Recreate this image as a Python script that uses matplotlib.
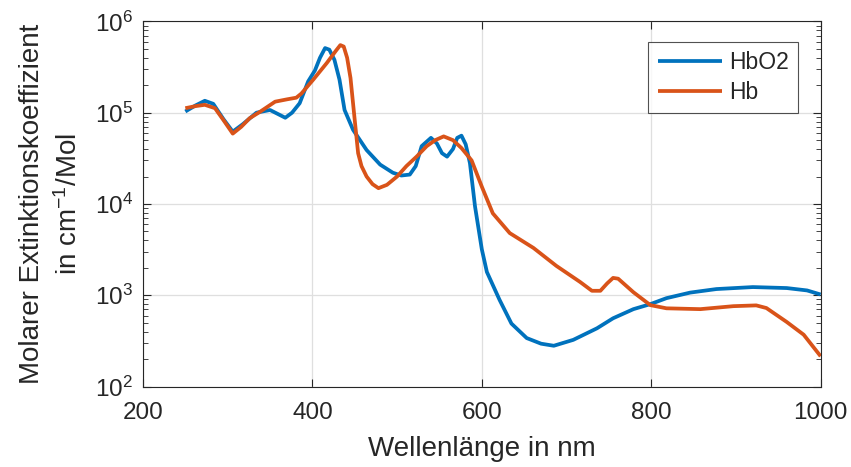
import matplotlib
matplotlib.use("Agg")
import matplotlib.pyplot as plt
from matplotlib.ticker import LogLocator, NullFormatter

plt.rcParams['font.family'] = ['Liberation Sans', 'DejaVu Sans']
plt.rcParams['mathtext.fontset'] = 'custom'
plt.rcParams['mathtext.rm'] = 'Liberation Sans'
plt.rcParams['mathtext.it'] = 'Liberation Sans'

# Wavelength (nm) and molar extinction coefficient (cm^-1/Mol)
hbo2_nm = [250, 262, 273, 283, 295, 306, 318, 334, 350, 360, 368, 376, 385, 395,
           403, 409, 415, 420, 426, 432, 438, 448, 464, 480, 495, 505, 515, 522,
           529, 540, 547, 553, 559, 566, 571, 576, 581, 586, 592, 600, 606, 621,
           635, 653, 670, 685, 708, 736, 755, 779, 799, 818, 846, 877, 920, 960,
           984, 1000]
hbo2_eps = [1.03e5, 1.2e5, 1.35e5, 1.25e5, 8.5e4, 6.2e4, 7.5e4, 1.0e5, 1.07e5,
            9.6e4, 8.8e4, 1.0e5, 1.27e5, 2.2e5, 2.9e5, 4.0e5, 5.1e5, 4.9e5,
            3.8e5, 2.3e5, 1.07e5, 6.5e4, 3.9e4, 2.7e4, 2.2e4, 2.05e4, 2.1e4,
            2.6e4, 4.3e4, 5.3e4, 4.6e4, 3.6e4, 3.3e4, 4.0e4, 5.3e4, 5.6e4,
            4.5e4, 2.8e4, 9.4e3, 3.2e3, 1.8e3, 8.9e2, 4.9e2, 3.4e2, 2.95e2,
            2.8e2, 3.25e2, 4.35e2, 5.6e2, 7.05e2, 8.0e2, 9.3e2, 1.07e3,
            1.17e3, 1.23e3, 1.2e3, 1.13e3, 1.02e3]

hb_nm = [250, 262, 273, 285, 295, 306, 316, 326, 338, 356, 370, 381, 387, 401,
         417, 428, 433, 437, 441, 445, 450, 454, 458, 464, 471, 478, 488, 500,
         511, 523, 535, 545, 555, 566, 576, 588, 600, 613, 633, 661, 688, 716,
         730, 740, 748, 755, 761, 779, 799, 818, 858, 897, 924, 936, 960, 980,
         1000]
hb_eps = [1.12e5, 1.18e5, 1.22e5, 1.12e5, 8.3e4, 5.9e4, 7.0e4, 8.7e4, 1.02e5,
          1.32e5, 1.40e5, 1.46e5, 1.62e5, 2.3e5, 3.5e5, 4.8e5, 5.5e5, 5.3e5,
          4.0e5, 2.4e5, 8.3e4, 3.6e4, 2.6e4, 2.0e4, 1.65e4, 1.49e4, 1.62e4,
          2.0e4, 2.6e4, 3.3e4, 4.3e4, 5.0e4, 5.5e4, 5.0e4, 4.1e4, 3.0e4,
          1.55e4, 7.9e3, 4.8e3, 3.3e3, 2.1e3, 1.4e3, 1.12e3, 1.12e3, 1.35e3,
          1.55e3, 1.52e3, 1.08e3, 7.8e2, 7.2e2, 7.05e2, 7.6e2, 7.75e2,
          7.25e2, 5.1e2, 3.7e2, 2.15e2]

x_ticks = [200, 400, 600, 800, 1000]

fig = plt.figure(figsize=(8.51, 4.67), dpi=100)
ax = fig.add_axes([0.168, 0.1722, 0.7963, 0.782])

ax.plot(hbo2_nm, hbo2_eps, color='#0072BD', lw=2.7, label='HbO2',
        solid_joinstyle='round', solid_capstyle='butt')
ax.plot(hb_nm, hb_eps, color='#D95319', lw=2.7, label='Hb',
        solid_joinstyle='round', solid_capstyle='butt')

ax.set_yscale('log')
ax.set_xlim(200, 1000)
ax.set_ylim(1e2, 1e6)
ax.set_xticks(x_ticks)
ax.yaxis.set_major_locator(LogLocator(base=10, numticks=10))
ax.yaxis.set_minor_locator(LogLocator(base=10, subs=range(2, 10), numticks=50))
ax.yaxis.set_minor_formatter(NullFormatter())

ax.grid(True, which='major', color='#dfdfdf', lw=0.9)
ax.set_axisbelow(True)

ax.tick_params(which='both', direction='in', top=True, right=True,
               colors='#262626', labelcolor='#262626')
ax.tick_params(which='major', length=6, width=0.8, labelsize=17.5)
ax.tick_params(axis='x', which='major', pad=11)
ax.tick_params(axis='y', which='major', pad=7)
ax.tick_params(which='minor', length=3.5, width=0.6)
for s in ax.spines.values():
    s.set_color('#262626')
    s.set_linewidth(0.8)

ax.set_xlabel('Wellenlänge in nm', fontsize=20, color='#262626', labelpad=9)
ax.set_ylabel('Molarer Extinktionskoeffizient\nin cm$^{-1}$/Mol', fontsize=20,
              color='#262626', labelpad=9, linespacing=1.45)

leg = ax.legend(loc='upper right', bbox_to_anchor=(0.966, 0.944), fontsize=16.5,
                frameon=True, fancybox=False, handlelength=2.8,
                borderpad=0.4, labelspacing=0.3, handletextpad=0.3,
                borderaxespad=0.0)
leg.get_frame().set_edgecolor('#262626')
leg.get_frame().set_linewidth(0.8)
for t in leg.get_texts():
    t.set_color('#262626')

fig.savefig('out.png', dpi=100)
